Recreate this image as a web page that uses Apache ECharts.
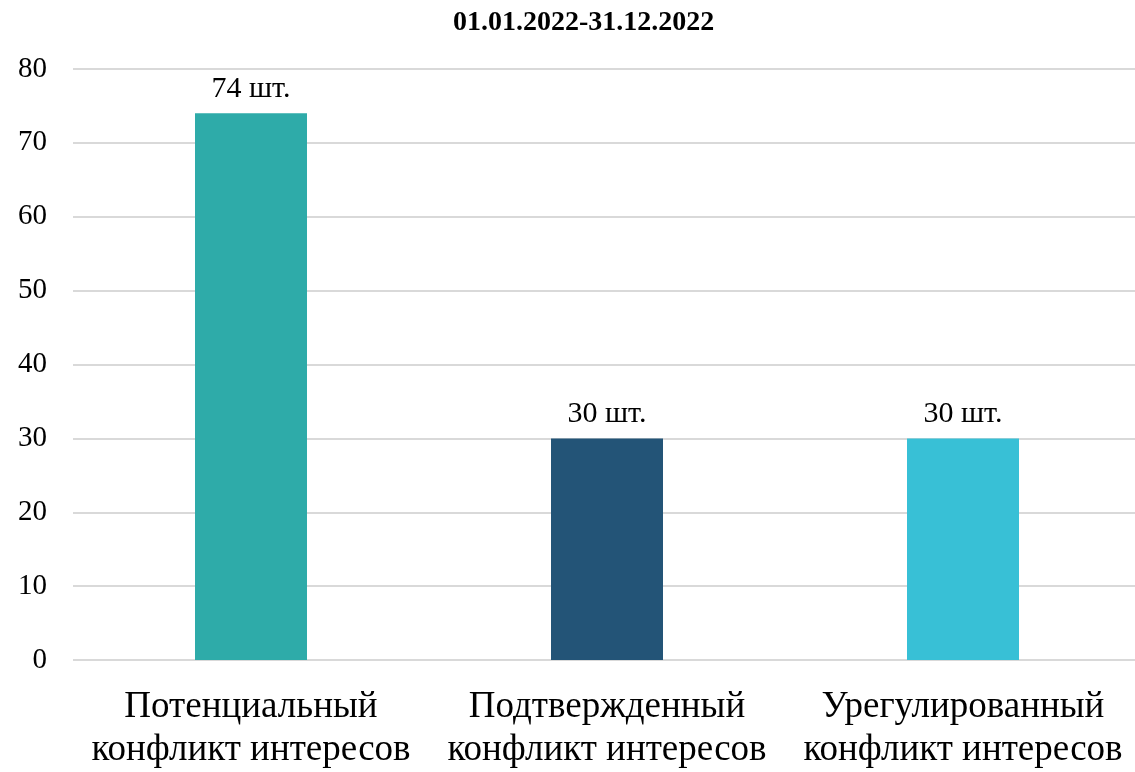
<!DOCTYPE html>
<html>
<head>
<meta charset="utf-8">
<script src="https://cdn.jsdelivr.net/npm/echarts@6/dist/echarts.min.js"></script>
<style>
  html, body { margin: 0; padding: 0; background: #fff; overflow: hidden; }
  #chart { width: 1145px; height: 772px; }
</style>
</head>
<body>
<div id="chart"></div>
<script>
// chart data
const categories = [
  "Потенциальный\nконфликт интересов",
  "Подтвержденный\nконфликт интересов",
  "Урегулированный\nконфликт интересов"
];
const values = [74, 30, 30];
const barColors = ["#2EABA9", "#235477", "#38C0D6"];
const titleText = "01.01.2022-31.12.2022";
const unit = " шт.";

const font = "'Liberation Serif', 'Times New Roman', serif";
const chart = echarts.init(document.getElementById("chart"));

const option = {
  backgroundColor: "#fff",
  title: {
    text: titleText,
    left: 448,
    top: 4,
    textStyle: { fontFamily: font, fontSize: 28, fontWeight: "bold", color: "#000" }
  },
  grid: {
    left: 73,
    top: 69,
    width: 1068,
    height: 592
  },
  xAxis: {
    type: "category",
    data: categories,
    axisLine: { show: false },
    axisTick: { show: false },
    axisLabel: {
      fontFamily: font,
      fontSize: 37,
      lineHeight: 43,
      color: "#000",
      margin: 26,
      interval: 0
    }
  },
  yAxis: {
    type: "value",
    min: 0,
    max: 80,
    interval: 10,
    axisLine: { show: false },
    axisTick: { show: false },
    axisLabel: {
      fontFamily: font,
      fontSize: 29,
      color: "#000",
      margin: 26
    },
    splitLine: { lineStyle: { color: "#d9d9d9", width: 2 } }
  },
  series: [
    {
      type: "bar",
      data: values.map((v, i) => ({ value: v, itemStyle: { color: barColors[i] } })),
      barWidth: 112,
      label: {
        show: true,
        position: "top",
        distance: 9,
        fontFamily: font,
        fontSize: 30,
        color: "#000",
        formatter: (p) => p.value + unit
      }
    }
  ]
};

chart.setOption(option);
</script>
</body>
</html>
